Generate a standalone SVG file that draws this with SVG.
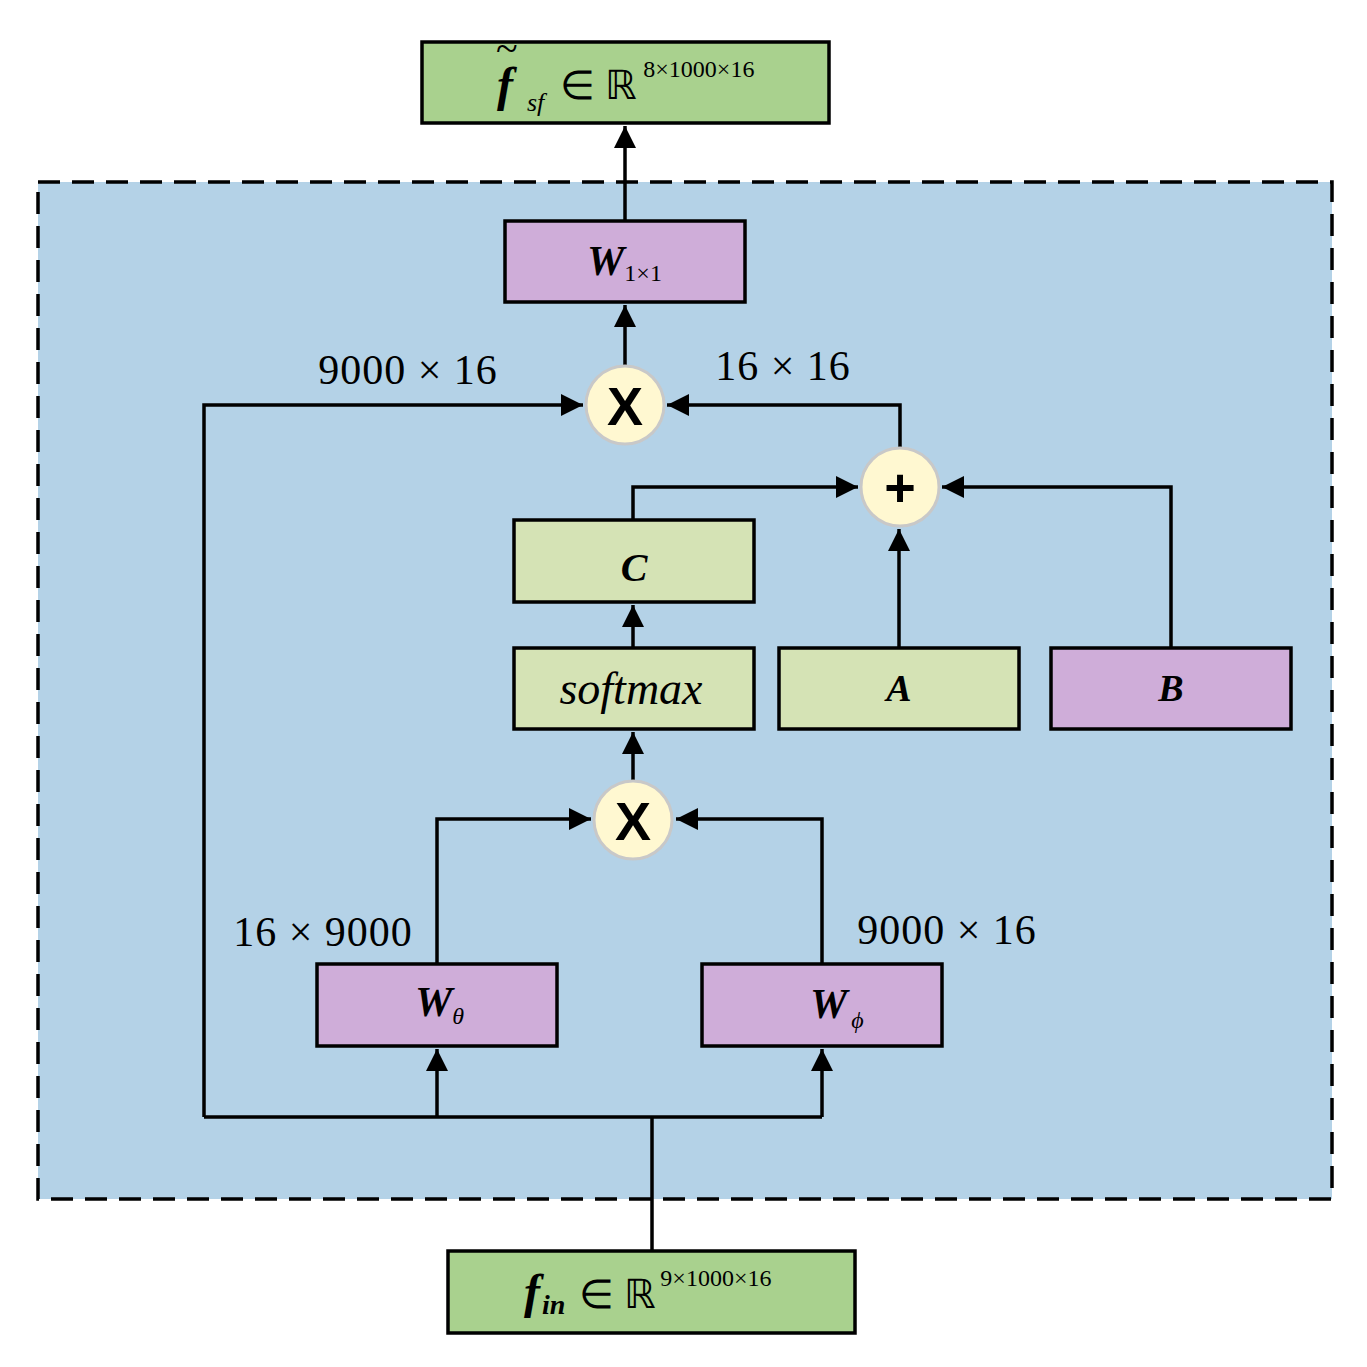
<svg xmlns="http://www.w3.org/2000/svg" width="1367" height="1367" viewBox="0 0 1367 1367">
<style>
.box{stroke:#000;stroke-width:3.5}
.g1{fill:#a9d18e}.g2{fill:#d5e3b5}.p{fill:#cfadd9}
.c{fill:#fff8d1;stroke:#c8c8c8;stroke-width:3}
#connectors path{fill:none;stroke:#000;stroke-width:3.5;marker-end:url(#b)}
#connectors path.nm{marker-end:none}
.t{font-family:"Liberation Serif",serif;fill:#000}
.op{font-family:"Liberation Sans",sans-serif;font-size:54px;font-weight:bold;text-anchor:middle}
.lb{font-family:"Liberation Serif",serif;font-size:42px;text-anchor:middle;letter-spacing:1px}
.bi{font-weight:bold;font-style:italic}
</style>
<defs><marker id="b" viewBox="0 0 10 10" refX="10" refY="5" markerWidth="22" markerHeight="22" markerUnits="userSpaceOnUse" orient="auto"><path d="M0,0L10,5L0,10z"/></marker></defs>
<rect width="1367" height="1367" fill="#fff"/>
<rect x="38" y="182" width="1294" height="1017" fill="#b4d2e7" stroke="#000" stroke-width="3.5" stroke-dasharray="22,12"/>
<g id="connectors">
<path class="nm" d="M652,1251V1117M204,1117H822"/>
<path d="M437,1117V1049"/>
<path d="M822,1117V1049"/>
<path d="M204,1117V405H583"/>
<path d="M437,964V819H591"/>
<path d="M822,964V819H676"/>
<path d="M633,780V732"/>
<path d="M633,648V605"/>
<path d="M633,520V487H858"/>
<path d="M899,648V529"/>
<path d="M1171,648V487H942"/>
<path d="M900,447V405H667"/>
<path d="M625,365V305"/>
<path d="M625,221V126"/>
</g>
<g id="out"><rect class="box g1" x="422" y="42" width="407" height="81"/>
<text class="t" x="497" y="101" font-size="48"><tspan class="bi">f</tspan><tspan font-size="26" font-style="italic" dx="14" dy="10">sf</tspan><tspan font-size="40" dx="16" dy="-12">∈ ℝ</tspan><tspan font-size="24" dx="6" dy="-22">8×1000×16</tspan></text>
<text class="t" x="496" y="62" font-size="40">~</text></g>
<g id="w11"><rect class="box p" x="505" y="221" width="240" height="81"/>
<text class="t" x="587" y="275" font-size="42"><tspan class="bi">W</tspan><tspan font-size="24" dy="6">1×1</tspan></text></g>
<g id="mul1"><circle class="c" cx="625" cy="405" r="39"/><text class="op" x="625" y="425">X</text></g>
<g id="plus"><circle class="c" cx="900" cy="487" r="39"/><text class="op" x="900" y="506">+</text></g>
<g id="C"><rect class="box g2" x="514" y="520" width="240" height="82"/><text class="t bi" x="634" y="581" font-size="40" text-anchor="middle">C</text></g>
<g id="softmax"><rect class="box g2" x="514" y="648" width="240" height="81"/><text class="t" x="631" y="704" font-size="46" font-style="italic" text-anchor="middle">softmax</text></g>
<g id="A"><rect class="box g2" x="779" y="648" width="240" height="81"/><text class="t bi" x="899" y="701" font-size="38" text-anchor="middle">A</text></g>
<g id="B"><rect class="box p" x="1051" y="648" width="240" height="81"/><text class="t bi" x="1171" y="701" font-size="38" text-anchor="middle">B</text></g>
<g id="mul2"><circle class="c" cx="633" cy="820" r="39"/><text class="op" x="633" y="840">X</text></g>
<g id="wt"><rect class="box p" x="317" y="964" width="240" height="82"/><text class="t" x="415" y="1016" font-size="42"><tspan class="bi">W</tspan><tspan font-size="24" font-style="italic" dy="8">θ</tspan></text></g>
<g id="wp"><rect class="box p" x="702" y="964" width="240" height="82"/><text class="t" x="810" y="1018" font-size="42"><tspan class="bi">W</tspan><tspan font-size="24" font-style="italic" dx="4" dy="10">ϕ</tspan></text></g>
<g id="in"><rect class="box g1" x="448" y="1251" width="407" height="82"/>
<text class="t" x="524" y="1308" font-size="48"><tspan class="bi">f</tspan><tspan font-size="28" class="bi" dx="2" dy="6">in</tspan><tspan font-size="40" dx="14" dy="-6">∈ ℝ</tspan><tspan font-size="24" dx="4" dy="-22">9×1000×16</tspan></text></g>
<g id="labels">
<text class="lb" x="408" y="384">9000 × 16</text>
<text class="lb" x="783" y="380">16 × 16</text>
<text class="lb" x="323" y="946">16 × 9000</text>
<text class="lb" x="947" y="944">9000 × 16</text>
</g>
</svg>
